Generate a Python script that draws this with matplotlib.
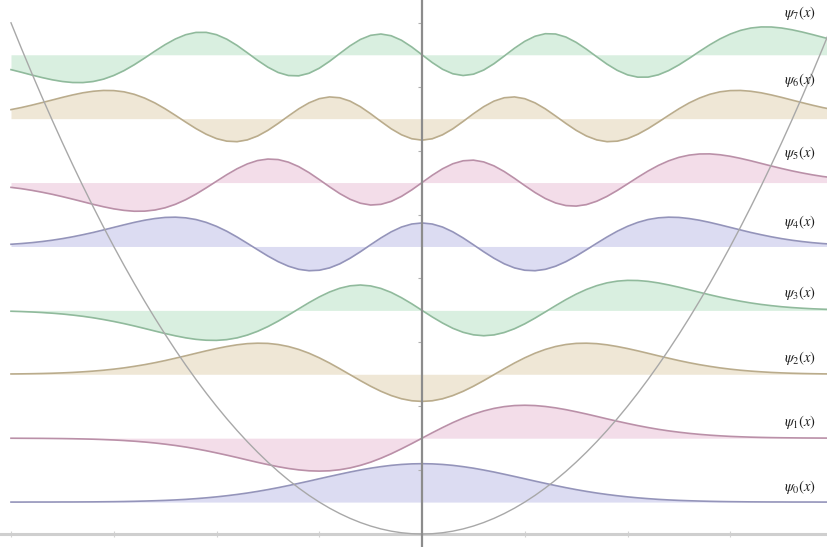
import matplotlib

matplotlib.use("Agg")
import matplotlib.pyplot as plt

# Posicoes x amostradas (unidades naturais do oscilador), de -4 a 4.
x_vals = [
    -4.0, -3.9, -3.8, -3.7, -3.6, -3.5, -3.4, -3.3, -3.2, -3.1,
    -3.0, -2.9, -2.8, -2.7, -2.6, -2.5, -2.4, -2.3, -2.2, -2.1,
    -2.0, -1.9, -1.8, -1.7, -1.6, -1.5, -1.4, -1.3, -1.2, -1.1,
    -1.0, -0.9, -0.8, -0.7, -0.6, -0.5, -0.4, -0.3, -0.2, -0.1,
    0.0, 0.1, 0.2, 0.3, 0.4, 0.5, 0.6, 0.7, 0.8, 0.9,
    1.0, 1.1, 1.2, 1.3, 1.4, 1.5, 1.6, 1.7, 1.8, 1.9,
    2.0, 2.1, 2.2, 2.3, 2.4, 2.5, 2.6, 2.7, 2.8, 2.9,
    3.0, 3.1, 3.2, 3.3, 3.4, 3.5, 3.6, 3.7, 3.8, 3.9,
    4.0,
]

potential = [
    8.000, 7.605, 7.220, 6.845, 6.480, 6.125, 5.780, 5.445, 5.120, 4.805,
    4.500, 4.205, 3.920, 3.645, 3.380, 3.125, 2.880, 2.645, 2.420, 2.205,
    2.000, 1.805, 1.620, 1.445, 1.280, 1.125, 0.980, 0.845, 0.720, 0.605,
    0.500, 0.405, 0.320, 0.245, 0.180, 0.125, 0.080, 0.045, 0.020, 0.005,
    0.000, 0.005, 0.020, 0.045, 0.080, 0.125, 0.180, 0.245, 0.320, 0.405,
    0.500, 0.605, 0.720, 0.845, 0.980, 1.125, 1.280, 1.445, 1.620, 1.805,
    2.000, 2.205, 2.420, 2.645, 2.880, 3.125, 3.380, 3.645, 3.920, 4.205,
    4.500, 4.805, 5.120, 5.445, 5.780, 6.125, 6.480, 6.845, 7.220, 7.605,
    8.000,
]

# Niveis de energia (linha de base de cada funcao de onda).
energy_levels = [0.5, 1.5, 2.5, 3.5, 4.5, 5.5, 6.5, 7.5]

psi_0 = [
    0.000, 0.000, 0.001, 0.001, 0.001, 0.002, 0.002, 0.003, 0.004, 0.006,
    0.008, 0.011, 0.015, 0.020, 0.026, 0.033, 0.042, 0.053, 0.067, 0.083,
    0.102, 0.124, 0.149, 0.177, 0.209, 0.244, 0.282, 0.323, 0.366, 0.410,
    0.456, 0.501, 0.545, 0.588, 0.627, 0.663, 0.693, 0.718, 0.736, 0.747,
    0.751, 0.747, 0.736, 0.718, 0.693, 0.663, 0.627, 0.588, 0.545, 0.501,
    0.456, 0.410, 0.366, 0.323, 0.282, 0.244, 0.209, 0.177, 0.149, 0.124,
    0.102, 0.083, 0.067, 0.053, 0.042, 0.033, 0.026, 0.020, 0.015, 0.011,
    0.008, 0.006, 0.004, 0.003, 0.002, 0.002, 0.001, 0.001, 0.001, 0.000,
    0.000,
]
psi_1 = [
    -0.001, -0.002, -0.003, -0.004, -0.006, -0.008, -0.011, -0.015, -0.020, -0.027,
    -0.035, -0.046, -0.059, -0.075, -0.094, -0.117, -0.143, -0.173, -0.208, -0.246,
    -0.288, -0.332, -0.378, -0.426, -0.473, -0.517, -0.558, -0.593, -0.620, -0.638,
    -0.644, -0.638, -0.617, -0.582, -0.532, -0.469, -0.392, -0.305, -0.208, -0.106,
    0.000, 0.106, 0.208, 0.305, 0.392, 0.469, 0.532, 0.582, 0.617, 0.638,
    0.644, 0.638, 0.620, 0.593, 0.558, 0.517, 0.473, 0.426, 0.378, 0.332,
    0.288, 0.246, 0.208, 0.173, 0.143, 0.117, 0.094, 0.075, 0.059, 0.046,
    0.035, 0.027, 0.020, 0.015, 0.011, 0.008, 0.006, 0.004, 0.003, 0.002,
    0.001,
]
psi_2 = [
    0.006, 0.008, 0.011, 0.015, 0.020, 0.027, 0.036, 0.048, 0.062, 0.079,
    0.100, 0.125, 0.155, 0.188, 0.226, 0.268, 0.314, 0.361, 0.410, 0.458,
    0.503, 0.543, 0.576, 0.599, 0.608, 0.604, 0.582, 0.543, 0.486, 0.412,
    0.322, 0.220, 0.108, -0.008, -0.124, -0.234, -0.333, -0.416, -0.479, -0.518,
    -0.531, -0.518, -0.479, -0.416, -0.333, -0.234, -0.124, -0.008, 0.108, 0.220,
    0.322, 0.412, 0.486, 0.543, 0.582, 0.604, 0.608, 0.599, 0.576, 0.543,
    0.503, 0.458, 0.410, 0.361, 0.314, 0.268, 0.226, 0.188, 0.155, 0.125,
    0.100, 0.079, 0.062, 0.048, 0.036, 0.027, 0.020, 0.015, 0.011, 0.008,
    0.006,
]
psi_3 = [
    -0.017, -0.023, -0.031, -0.042, -0.055, -0.071, -0.092, -0.116, -0.145, -0.179,
    -0.217, -0.259, -0.305, -0.354, -0.404, -0.453, -0.498, -0.537, -0.567, -0.584,
    -0.587, -0.572, -0.538, -0.483, -0.409, -0.317, -0.210, -0.092, 0.030, 0.151,
    0.263, 0.359, 0.433, 0.480, 0.496, 0.478, 0.429, 0.351, 0.248, 0.129,
    0.000, -0.129, -0.248, -0.351, -0.429, -0.478, -0.496, -0.480, -0.433, -0.359,
    -0.263, -0.151, -0.030, 0.092, 0.210, 0.317, 0.409, 0.483, 0.538, 0.572,
    0.587, 0.584, 0.567, 0.537, 0.498, 0.453, 0.404, 0.354, 0.305, 0.259,
    0.217, 0.179, 0.145, 0.116, 0.092, 0.071, 0.055, 0.042, 0.031, 0.023,
    0.017,
]
psi_4 = [
    0.043, 0.057, 0.074, 0.096, 0.122, 0.153, 0.189, 0.230, 0.274, 0.323,
    0.373, 0.423, 0.471, 0.513, 0.546, 0.568, 0.573, 0.560, 0.527, 0.471,
    0.394, 0.298, 0.185, 0.062, -0.064, -0.187, -0.297, -0.386, -0.447, -0.474,
    -0.465, -0.419, -0.339, -0.230, -0.103, 0.034, 0.167, 0.286, 0.380, 0.439,
    0.460, 0.439, 0.380, 0.286, 0.167, 0.034, -0.103, -0.230, -0.339, -0.419,
    -0.465, -0.474, -0.447, -0.386, -0.297, -0.187, -0.064, 0.062, 0.185, 0.298,
    0.394, 0.471, 0.527, 0.560, 0.573, 0.568, 0.546, 0.513, 0.471, 0.423,
    0.373, 0.323, 0.274, 0.230, 0.189, 0.153, 0.122, 0.096, 0.074, 0.057,
    0.043,
]
psi_5 = [
    -0.094, -0.119, -0.151, -0.188, -0.229, -0.275, -0.324, -0.375, -0.426, -0.473,
    -0.514, -0.544, -0.561, -0.559, -0.537, -0.493, -0.425, -0.335, -0.226, -0.103,
    0.026, 0.154, 0.270, 0.365, 0.431, 0.460, 0.450, 0.399, 0.312, 0.195,
    0.059, -0.083, -0.216, -0.327, -0.404, -0.439, -0.426, -0.368, -0.270, -0.143,
    0.000, 0.143, 0.270, 0.368, 0.426, 0.439, 0.404, 0.327, 0.216, 0.083,
    -0.059, -0.195, -0.312, -0.399, -0.450, -0.460, -0.431, -0.365, -0.270, -0.154,
    -0.026, 0.103, 0.226, 0.335, 0.425, 0.493, 0.537, 0.559, 0.561, 0.544,
    0.514, 0.473, 0.426, 0.375, 0.324, 0.275, 0.229, 0.188, 0.151, 0.119,
    0.094,
]
psi_6 = [
    0.177, 0.217, 0.263, 0.313, 0.364, 0.416, 0.464, 0.506, 0.536, 0.552,
    0.549, 0.525, 0.476, 0.403, 0.308, 0.193, 0.065, -0.067, -0.194, -0.305,
    -0.390, -0.440, -0.450, -0.415, -0.339, -0.228, -0.093, 0.052, 0.192, 0.309,
    0.391, 0.425, 0.409, 0.343, 0.234, 0.096, -0.054, -0.198, -0.315, -0.393,
    -0.420, -0.393, -0.315, -0.198, -0.054, 0.096, 0.234, 0.343, 0.409, 0.425,
    0.391, 0.309, 0.192, 0.052, -0.093, -0.228, -0.339, -0.415, -0.450, -0.440,
    -0.390, -0.305, -0.194, -0.067, 0.065, 0.193, 0.308, 0.403, 0.476, 0.525,
    0.549, 0.552, 0.536, 0.506, 0.464, 0.416, 0.364, 0.313, 0.263, 0.217,
    0.177,
]
psi_7 = [
    -0.291, -0.342, -0.395, -0.445, -0.489, -0.523, -0.543, -0.544, -0.523, -0.477,
    -0.405, -0.310, -0.194, -0.065, 0.070, 0.198, 0.309, 0.392, 0.437, 0.438,
    0.393, 0.305, 0.183, 0.039, -0.109, -0.243, -0.347, -0.406, -0.412, -0.362,
    -0.263, -0.128, 0.025, 0.175, 0.299, 0.380, 0.406, 0.372, 0.284, 0.153,
    0.000, -0.153, -0.284, -0.372, -0.406, -0.380, -0.299, -0.175, -0.025, 0.128,
    0.263, 0.362, 0.412, 0.406, 0.347, 0.243, 0.109, -0.039, -0.183, -0.305,
    -0.393, -0.438, -0.437, -0.392, -0.309, -0.198, -0.070, 0.065, 0.194, 0.310,
    0.405, 0.477, 0.523, 0.544, 0.543, 0.523, 0.489, 0.445, 0.395, 0.342,
    0.291,
]

psi_series = [psi_0, psi_1, psi_2, psi_3, psi_4, psi_5, psi_6, psi_7]
labels = [rf"$\psi_{{{n}}}(x)$" for n in range(8)]

# Escala vertical das funcoes de onda em relacao ao espacamento dos niveis.
AMPLITUDE = 0.8

# Cores (linha, preenchimento) que se repetem a cada quatro niveis.
LINE_COLORS = ["#9494ba", "#ba90a8", "#baac8c", "#90ba9c"]
FILL_COLORS = ["#dcdcf2", "#f3dde9", "#efe7d6", "#d9efe0"]

# Altura do rotulo de cada curva.
LABEL_Y = [0.74, 1.75, 2.75, 3.77, 4.88, 5.96, 7.10, 8.15]

plt.rcParams["mathtext.fontset"] = "stix"

fig = plt.figure(figsize=(8.28, 5.47), dpi=100)
ax = fig.add_axes([0, 0, 1, 1])

for n, (psi, level) in enumerate(zip(psi_series, energy_levels)):
    curve = [level + AMPLITUDE * v for v in psi]
    ax.fill_between(x_vals, level, curve, color=FILL_COLORS[n % 4], linewidth=0, zorder=1)
    ax.plot(x_vals, curve, color=LINE_COLORS[n % 4], linewidth=1.2, zorder=2)
    ax.text(3.68, LABEL_Y[n], labels[n], fontsize=10.5, color="#1e1e1e",
            ha="center", va="center", zorder=5)

# Parabola do potencial.
ax.plot(x_vals, potential, color="#a8a8a8", linewidth=1.0, zorder=3)

ax.set_xlim(-4.107, 3.951)
ax.set_ylim(-0.203, 8.357)

# Eixos no estilo do Mathematica, cruzando na origem.
ax.spines["right"].set_visible(False)
ax.spines["top"].set_visible(False)
ax.spines["left"].set_position(("data", 0))
ax.spines["bottom"].set_position(("data", 0))
ax.spines["left"].set_color("#8c8c8c")
ax.spines["left"].set_linewidth(1.6)
ax.spines["left"].set_zorder(4)
ax.spines["bottom"].set_color("#cfcfcf")
ax.spines["bottom"].set_linewidth(2.2)
ax.set_xticks([-4, -3, -2, -1, 1, 2, 3])
ax.set_yticks([1, 2, 3, 4, 5, 6, 7, 8])
ax.tick_params(axis="y", direction="out", length=3, width=0.8, colors="#b0b0b0",
               labelleft=False, right=False)
ax.tick_params(axis="x", direction="inout", length=4, width=0.8, colors="#d4d4d4",
               labelbottom=False)
ax.set_facecolor("white")

fig.savefig("out.png", dpi=100)
plt.close(fig)
